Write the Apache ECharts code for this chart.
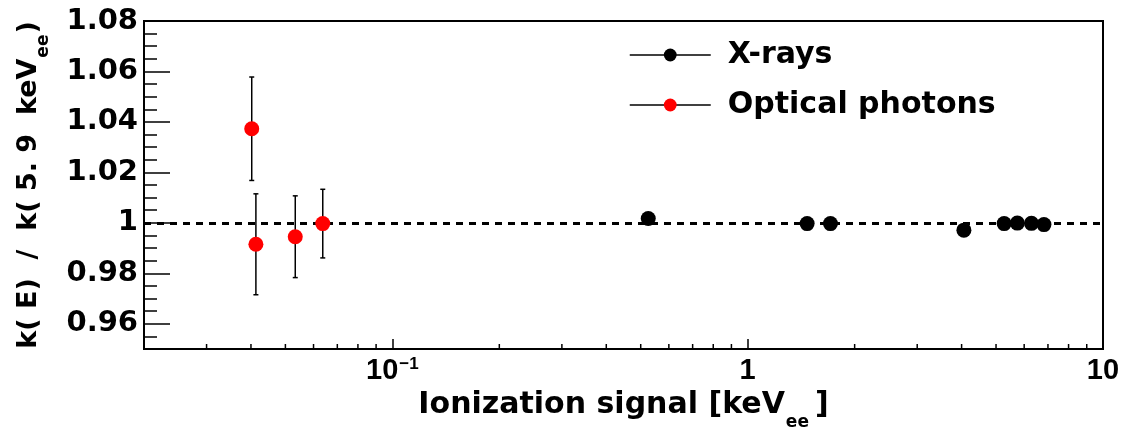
<!DOCTYPE html>
<html>
<head>
<meta charset="utf-8">
<title>k(E) / k(5.9 keVee) vs ionization signal</title>
<script src="https://cdn.jsdelivr.net/npm/echarts@6/dist/echarts.min.js"></script>
<style>
  html, body { margin: 0; padding: 0; background: #fff; }
  #chart { width: 1128px; height: 431px; }
</style>
</head>
<body>
<div id="chart"></div>
<script>
// X-ray lines: ionization signal [keVee] and k(E)/k(5.9 keVee)
const xrayEnergy = [0.525, 1.47, 1.71, 4.06, 5.27, 5.74, 6.29, 6.82];
const xrayRatio = [1.0017, 0.9997, 0.9997, 0.9971, 0.9997, 0.9999, 0.9998, 0.9993];

// optical photons, with their errors
const opticalEnergy = [0.0402, 0.0413, 0.0533, 0.0637];
const opticalRatio = [1.0373, 0.9915, 0.9945, 0.9997];
const opticalError = [0.0205, 0.0200, 0.0162, 0.0136];

// axes
const yLabels = [0.96, 0.98, 1.00, 1.02, 1.04, 1.06, 1.08];
const xMinorTicks = [0.03, 0.04, 0.05, 0.06, 0.07, 0.08, 0.09,
                     0.2, 0.3, 0.4, 0.5, 0.6, 0.7, 0.8, 0.9,
                     2, 3, 4, 5, 6, 7, 8, 9];
const Y_MIN = 0.95;
const Y_MAX = 1.08;

// 次刻度，每 0.005 一个
const yMinorTicks = [];
for (let i = 0; i <= 26; i++) {
    yMinorTicks.push(Math.round((Y_MIN + i * 0.005) * 1000) / 1000);
}

const FONT_WIDE = '"DejaVu Sans", sans-serif';
const FONT_HELV = '"Liberation Sans", Arial, sans-serif';

const chart = echarts.init(document.getElementById('chart'));

// 10 的幂 -> 标签
function xLabel(v) {
    const e = Math.round(Math.log10(v));
    if (e < 0) return '{n|10}{sup|\u2212' + (-e) + '}';
    return '{n|' + Math.pow(10, e) + '}';
}

const tickStyle = { color: '#000', width: 1.5 };

const option = {
    backgroundColor: '#fff',
    animation: false,
    grid: {
        left: 144, top: 21, right: 25, bottom: 82,
        outerBoundsMode: 'none',
        containLabel: false,
        show: true, borderColor: '#000', borderWidth: 2
    },
    legend: {
        data: ['X-rays', 'Optical photons'],
        orient: 'vertical',
        left: 629, top: 40,
        padding: 0,
        itemWidth: 81, itemHeight: 16, itemGap: 20,
        selectedMode: false,
        lineStyle: { color: '#000', width: 1.5, opacity: 1, type: 'solid' },
        textStyle: {
            fontFamily: FONT_WIDE, fontWeight: 'bold', fontSize: 30, color: '#000',
            padding: [0, 0, 0, 12]
        }
    },
    xAxis: {
        type: 'log', logBase: 10, min: 0.02, max: 10,
        axisLine: { onZero: false, lineStyle: { color: '#000', width: 2 } },
        axisTick: { inside: true, length: 10, lineStyle: tickStyle },
        axisLabel: {
            showMinLabel: false, margin: 7, formatter: xLabel,
            rich: {
                n: { fontFamily: FONT_HELV, fontWeight: 'bold', fontSize: 29, color: '#000', lineHeight: 34, verticalAlign: 'top' },
                sup: { fontFamily: FONT_HELV, fontWeight: 'bold', fontSize: 17, color: '#000', verticalAlign: 'top', padding: [0, 0, 0, 1] }
            }
        },
        splitLine: { show: false },
        name: '{m|Ionization signal [keV}{sub|ee}{m|]}',
        nameLocation: 'middle',
        nameGap: 38,
        nameTextStyle: {
            rich: {
                m: { fontFamily: FONT_WIDE, fontWeight: 'bold', fontSize: 30, color: '#000', lineHeight: 34, verticalAlign: 'top' },
                sub: { fontFamily: FONT_WIDE, fontWeight: 'bold', fontSize: 17, color: '#000', verticalAlign: 'top', padding: [24, 6, 0, 1] }
            }
        }
    },
    yAxis: [{
        type: 'value', min: Y_MIN, max: Y_MAX, position: 'left',
        axisLine: { show: true, onZero: false, lineStyle: { color: '#000', width: 2 } },
        axisTick: { show: true, inside: true, length: 26, customValues: yLabels, lineStyle: tickStyle },
        axisLabel: {
            customValues: yLabels, margin: 6,
            formatter: v => String(+v.toFixed(2)),
            fontFamily: FONT_WIDE, fontWeight: 'bold', fontSize: 29, color: '#000'
        },
        splitLine: { show: false },
        name: '{m|k( E)  /  k( 5. 9  keV}{sub|ee}{m|)}',
        nameLocation: 'middle',
        nameRotate: 90,
        nameGap: 92,
        nameTextStyle: {
            rich: {
                m: { fontFamily: FONT_WIDE, fontWeight: 'bold', fontSize: 27, color: '#000', lineHeight: 34, verticalAlign: 'top' },
                sub: { fontFamily: FONT_WIDE, fontWeight: 'bold', fontSize: 17, color: '#000', verticalAlign: 'top', padding: [20, 1, 0, 1] }
            }
        }
    }, {
        type: 'value', min: Y_MIN, max: Y_MAX, position: 'left',
        axisLine: { show: false },
        axisTick: { show: true, inside: true, length: 13, customValues: yMinorTicks, lineStyle: tickStyle },
        axisLabel: { show: false },
        splitLine: { show: false }
    }],
    series: [
        {
            // x 轴次刻度
            type: 'custom',
            silent: true,
            data: xMinorTicks.map(v => [v, Y_MIN]),
            renderItem: (params, api) => {
                const p = api.coord([api.value(0), api.value(1)]);
                return {
                    type: 'line',
                    shape: { x1: p[0], y1: p[1], x2: p[0], y2: p[1] - 5 },
                    style: { stroke: '#000', lineWidth: 1.5 }
                };
            },
            z: 1
        },
        {
            // 误差棒
            type: 'custom',
            silent: true,
            data: opticalEnergy.map((x, i) => [x, opticalRatio[i] - opticalError[i], opticalRatio[i] + opticalError[i]]),
            encode: { x: 0, y: [1, 2] },
            renderItem: (params, api) => {
                const x = api.value(0);
                const lo = api.coord([x, api.value(1)]);
                const hi = api.coord([x, api.value(2)]);
                const cap = 2.5;
                const style = { stroke: '#000', lineWidth: 1.5 };
                return {
                    type: 'group',
                    children: [
                        { type: 'line', shape: { x1: lo[0], y1: lo[1], x2: hi[0], y2: hi[1] }, style },
                        { type: 'line', shape: { x1: lo[0] - cap, y1: lo[1], x2: lo[0] + cap, y2: lo[1] }, style },
                        { type: 'line', shape: { x1: hi[0] - cap, y1: hi[1], x2: hi[0] + cap, y2: hi[1] }, style }
                    ]
                };
            },
            z: 2
        },
        {
            name: 'X-rays',
            type: 'line',
            data: xrayEnergy.map((x, i) => [x, xrayRatio[i]]),
            symbol: 'circle',
            symbolSize: 15,
            itemStyle: { color: '#000' },
            lineStyle: { opacity: 0 },
            z: 3,
            markLine: {
                silent: true,
                z: 1,
                symbol: ['none', 'none'],
                label: { show: false },
                lineStyle: { color: '#000', width: 3, type: [7, 6] },
                data: [{ yAxis: 1 }]
            }
        },
        {
            name: 'Optical photons',
            type: 'line',
            data: opticalEnergy.map((x, i) => [x, opticalRatio[i]]),
            symbol: 'circle',
            symbolSize: 15,
            itemStyle: { color: '#ff0000' },
            lineStyle: { opacity: 0 },
            z: 3
        }
    ]
};

chart.setOption(option);

window.addEventListener('resize', () => {
    chart.resize();
});
</script>
</body>
</html>
